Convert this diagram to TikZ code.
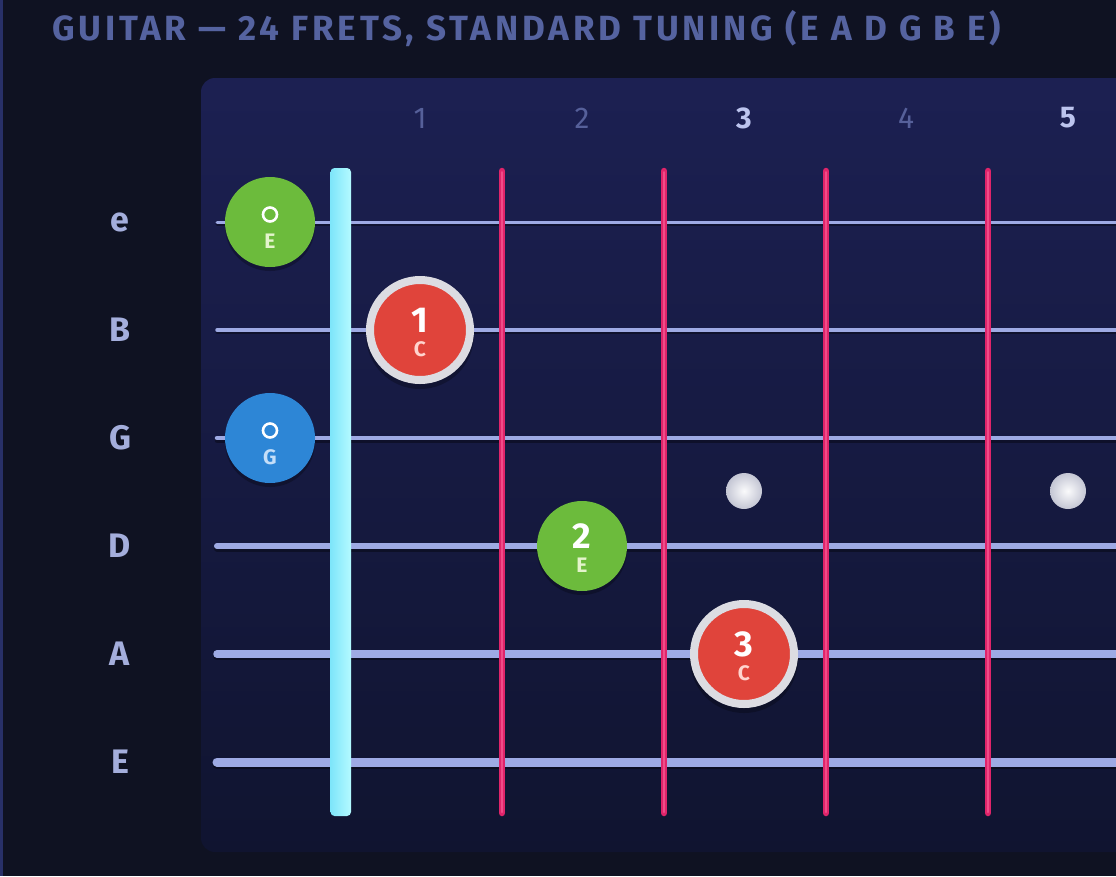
\documentclass[tikz,border=0pt]{standalone}
\usepackage{fontspec}
\setmainfont{Fira Sans}
\definecolor{bgc}{HTML}{0F1222}
\definecolor{strip}{HTML}{283068}
\definecolor{paneltop}{HTML}{1C2052}
\definecolor{panelbot}{HTML}{101430}
\definecolor{titlec}{HTML}{5563A0}
\definecolor{labelc}{HTML}{A4AEDC}
\definecolor{stringc}{HTML}{9EAAE4}
\definecolor{nutl}{HTML}{7EE6FA}
\definecolor{nutr}{HTML}{B4FAFF}
\definecolor{fretc}{HTML}{E0246A}
\definecolor{fretl}{HTML}{F04C88}
\definecolor{dimnum}{HTML}{56609A}
\definecolor{brightnum}{HTML}{BCC4EE}
\definecolor{greenc}{HTML}{6CBB3C}
\definecolor{bluec}{HTML}{2D86D6}
\definecolor{redc}{HTML}{E0443B}
\definecolor{ringc}{HTML}{DCDCE2}
\definecolor{greentxt}{HTML}{E4F4CC}
\definecolor{bluetxt}{HTML}{C4DEF8}
\definecolor{redtxt}{HTML}{FFD4CE}
\definecolor{dotc}{HTML}{C4C6D4}
\tikzset{
  stringline/.style={draw=stringc, line cap=round},
  fretline/.style={draw=fretc, line width=6.5pt, line cap=round},
  fretcore/.style={draw=fretl, line width=2pt, line cap=round},
  strlabel/.style={text=labelc, font=\fontsize{34}{34}\selectfont\bfseries, inner sep=0pt},
  fretnum/.style={text=dimnum, font=\fontsize{30}{30}\selectfont, inner sep=0pt},
  fretnumhi/.style={text=brightnum, font=\fontsize{30}{30}\selectfont\bfseries, inner sep=0pt},
  openmark/.style={circle, minimum size=90pt, inner sep=0pt},
  fingermark/.style={circle, fill=redc, draw=ringc, line width=8pt, minimum size=100pt, inner sep=0pt},
  greenfinger/.style={circle, fill=greenc, minimum size=90pt, inner sep=0pt},
  bignum/.style={text=white, font=\fontsize{36}{36}\selectfont\bfseries, inner sep=0pt},
  smallnote/.style={font=\fontsize{21}{21}\selectfont\bfseries, inner sep=0pt},
  openring/.style={circle, draw=white, line width=2.6pt, minimum size=14pt, inner sep=0pt},
  inlay/.style={circle, inner color=white!92!dotc, outer color=dotc, minimum size=36pt, inner sep=0pt},
  shadowc/.style={fill=black, opacity=0.25}
}
\begin{document}
\begin{tikzpicture}[x=1pt,y=-1pt]
\useasboundingbox (0,0) rectangle (1116,876);
\fill[bgc] (0,0) rectangle (1116,876);
\fill[strip] (0,0) rectangle (3,876);
% title
\node[anchor=base west, text=titlec, inner sep=0pt,
  font=\fontsize{35}{35}\selectfont\bfseries\addfontfeatures{LetterSpace=11}] (title) at (52,40)
  {GUITAR — 24 FRETS, STANDARD TUNING (E A D G B E)};
% panel
\shade[top color=paneltop, bottom color=panelbot, rounded corners=14pt] (201,78) rectangle (1150,852);
% fret numbers
\node[fretnum] (n1) at (420,118) {1};
\node[fretnum] (n2) at (582,118) {2};
\node[fretnumhi] (n3) at (744,118) {3};
\node[fretnum] (n4) at (906,118) {4};
\node[fretnumhi] (n5) at (1068,118) {5};
% string labels
\node[strlabel] (le) at (120,222) {e};
\node[strlabel] (lB) at (120,330) {B};
\node[strlabel] (lG) at (120,438) {G};
\node[strlabel] (lD) at (120,546) {D};
\node[strlabel] (lA) at (120,654) {A};
\node[strlabel] (lE) at (120,762) {E};
% strings (shadow + line)
\foreach \y/\w in {222/3,330/3.5,438/4.5,546/6,654/7.5,762/9}{
  \draw[black, opacity=0.35, line width=\w pt, line cap=round] (217,\y+2.5) -- (1130,\y+2.5);
  \draw[stringline, line width=\w pt] (217,\y) -- (1130,\y);
}
% inlays
\node[inlay] (d3) at (744,491) {};
\node[inlay] (d5) at (1068,491) {};
% nut
\shade[left color=nutl, right color=nutr, rounded corners=4pt] (330.5,168) rectangle (351,816);
% frets
\foreach \x in {502,664,826,988}{
  \draw[fretline] (\x,171) -- (\x,813);
  \draw[fretcore] (\x,172) -- (\x,812);
}
% open strings
\fill[shadowc] (270,226) circle (45);
\node[openmark, fill=greenc] (oe) at (270,222) {};
\node[openring] (oer) at (270,214.5) {};
\node[smallnote, text=greentxt] (oet) at (270,241) {E};
\fill[shadowc] (270,442) circle (45);
\node[openmark, fill=bluec] (og) at (270,438) {};
\node[openring] (ogr) at (270,430.5) {};
\node[smallnote, text=bluetxt] (ogt) at (270,457) {G};
% fingers
\fill[shadowc] (420,335) circle (54);
\node[fingermark] (f1) at (420,330) {};
\node[bignum] (f1n) at (420,320) {1};
\node[smallnote, text=redtxt] (f1t) at (420,349) {C};
\fill[shadowc] (582,550) circle (45);
\node[greenfinger] (f2) at (582,546) {};
\node[bignum] (f2n) at (582,536) {2};
\node[smallnote, text=greentxt] (f2t) at (582,565) {E};
\fill[shadowc] (744,659) circle (54);
\node[fingermark] (f3) at (744,654) {};
\node[bignum] (f3n) at (744,644) {3};
\node[smallnote, text=redtxt] (f3t) at (744,673) {C};
\end{tikzpicture}
\end{document}
